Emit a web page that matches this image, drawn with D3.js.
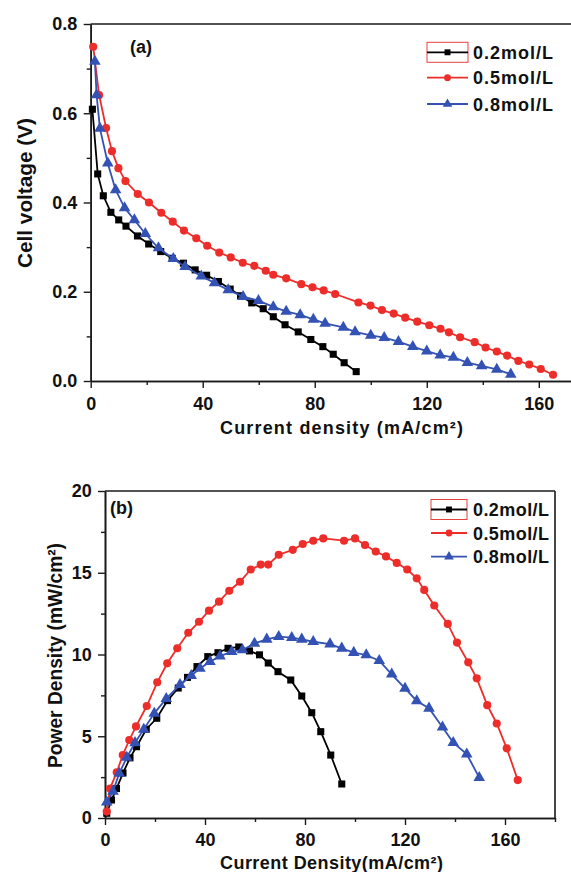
<!DOCTYPE html>
<html>
<head>
<meta charset="utf-8">
<script src="https://cdn.jsdelivr.net/npm/d3@7"></script>
<style>
  body { margin: 0; background: #fff; }
  svg { display: block; }
  text { font-family: "Liberation Sans", Arial, sans-serif; font-weight: bold; }
</style>
</head>
<body>
<div id="chart"></div>
<script>
// series labels
const seriesNames = ["0.2mol/L", "0.5mol/L", "0.8mol/L"];

// (a) polarization curves: current density (mA/cm2) vs cell voltage (V)
const currentA02 = [0.6, 2.5, 4.5, 7.2, 10, 12.6, 16.7, 20.7, 25, 29.1, 33.1, 37.3, 41.4, 45.6, 49.8, 53.5, 57.5, 61.6, 65.2, 69.4, 74.1, 78.6, 82.9, 86.6, 90.5, 94.8];
const voltageA02 = [0.609, 0.464, 0.415, 0.378, 0.361, 0.347, 0.325, 0.307, 0.290, 0.275, 0.264, 0.249, 0.237, 0.223, 0.206, 0.191, 0.175, 0.162, 0.144, 0.126, 0.110, 0.093, 0.077, 0.060, 0.041, 0.021];

const currentA05 = [0.9, 3.0, 5.5, 7.6, 9.9, 12.4, 16.8, 20.8, 25.2, 29.3, 33.3, 37.7, 41.6, 45.9, 50, 54.3, 58.4, 62.5, 65.2, 69.8, 75.2, 79.2, 83.2, 87.3, 95.6, 99.9, 104, 108.2, 112.3, 116.6, 120.9, 124.9, 127.9, 131.9, 137.1, 141, 145, 148.7, 152.7, 156.6, 160.7, 165.1];
const voltageA05 = [0.749, 0.641, 0.567, 0.515, 0.477, 0.448, 0.419, 0.400, 0.377, 0.357, 0.337, 0.320, 0.303, 0.288, 0.277, 0.265, 0.258, 0.247, 0.238, 0.230, 0.217, 0.210, 0.203, 0.195, 0.176, 0.169, 0.159, 0.151, 0.142, 0.133, 0.125, 0.117, 0.109, 0.098, 0.087, 0.075, 0.066, 0.057, 0.045, 0.037, 0.027, 0.014];

const currentA08 = [1.5, 2.1, 3.3, 6.1, 8.9, 12.1, 15.6, 19.5, 24.2, 29.5, 33.7, 39.5, 44.2, 49.1, 54.4, 59.9, 65.2, 69.8, 74.8, 79.5, 83.7, 90.2, 94.4, 100, 104.8, 109.9, 115, 120, 124.8, 129.5, 134.5, 139.6, 145, 150];
const voltageA08 = [0.716, 0.641, 0.566, 0.488, 0.428, 0.388, 0.361, 0.330, 0.298, 0.274, 0.256, 0.235, 0.220, 0.204, 0.189, 0.180, 0.166, 0.156, 0.148, 0.138, 0.129, 0.120, 0.110, 0.102, 0.097, 0.088, 0.077, 0.067, 0.058, 0.053, 0.041, 0.034, 0.026, 0.015];

// (b) power curves: current density (mA/cm2) vs power density (mW/cm2)
const currentB02 = [0.7, 2.6, 4.6, 7.2, 10, 12.6, 16.5, 20.7, 25, 29.3, 33, 36.8, 41.1, 45.2, 49.2, 53.5, 57.8, 61.8, 65.3, 69.2, 74.3, 78.7, 82.7, 86.3, 90.3, 94.7];
const powerB02 = [0.29, 1.1, 1.8, 2.75, 3.68, 4.36, 5.43, 6.1, 7.18, 7.95, 8.6, 9.26, 9.87, 10.11, 10.38, 10.46, 10.22, 9.98, 9.48, 8.95, 8.44, 7.46, 6.44, 5.28, 3.85, 2.08];

const currentB05 = [0.7, 2, 4.7, 7.1, 9.7, 12.4, 16.7, 20.9, 24.9, 28.9, 33.3, 37.6, 41.6, 45.6, 49.7, 54, 58.3, 62.3, 65.3, 69.5, 75.1, 79.1, 83.3, 87.3, 95.6, 100, 104, 108.3, 112.4, 116.7, 120.9, 124.7, 127.7, 131.7, 137.1, 140.8, 145.3, 148.7, 152.9, 156.7, 160.7, 165.1];
const powerB05 = [0.39, 1.8, 2.8, 3.85, 4.77, 5.6, 6.85, 8.3, 9.46, 10.38, 11.33, 12.0, 12.68, 13.23, 13.9, 14.45, 15.2, 15.5, 15.5, 16.1, 16.4, 16.76, 16.96, 17.1, 16.96, 17.1, 16.7, 16.3, 16.0, 15.6, 15.2, 14.66, 13.95, 13.0, 11.87, 10.73, 9.52, 8.54, 6.9, 5.78, 4.26, 2.32];

const currentB08 = [0.7, 3.2, 5.7, 8.7, 12, 15.5, 19.7, 24.5, 30, 34.5, 38, 42, 46, 50.7, 55, 59.8, 64.7, 69.5, 74.7, 78.7, 83.3, 90, 94.7, 99.5, 104.5, 109.7, 114.7, 120, 124.7, 129.6, 135, 139.3, 144.7, 149.7];
const powerB08 = [0.97, 1.63, 2.73, 3.7, 4.6, 5.42, 6.4, 7.3, 8.15, 8.7, 9.15, 9.56, 9.9, 10.18, 10.28, 10.68, 10.93, 11.09, 11.03, 10.93, 10.78, 10.64, 10.38, 10.12, 9.97, 9.62, 8.79, 7.93, 7.16, 6.71, 5.55, 4.61, 3.91, 2.47];

// tick values
const xTicksMajor = [0, 40, 80, 120, 160];
const xTicksMinorA = [20, 60, 100, 140];
const xTicksMinorB = [20, 60, 100, 140, 180];
const yTicksA = [0, 0.2, 0.4, 0.6, 0.8];
const yTicksMinorA = [0.1, 0.3, 0.5, 0.7];
const yTicksB = [0, 5, 10, 15, 20];
const yTicksMinorB = [2.5, 7.5, 12.5, 17.5];

const colors = ["#000000", "#ec2d2a", "#3352b3"];
const symbols = [d3.symbolSquare, d3.symbolCircle, d3.symbolTriangle];
const symSize = [50, 52, 58];

const svg = d3.select("#chart").append("svg")
  .attr("width", 571)
  .attr("height", 872);

const axisColor = "#1a1a1a";

function styleAxis(g) {
  g.select(".domain").attr("stroke", axisColor).attr("stroke-width", 1.6);
  g.selectAll(".tick line").attr("stroke", axisColor).attr("stroke-width", 1.4);
  g.selectAll("text").attr("fill", "#111").style("font-size", "18px")
    .style("font-family", "'Liberation Sans', Arial, sans-serif").style("font-weight", "bold");
}

// draws axes + series for one panel
function drawPanel(x, y, xMinor, yMajor, yMinor, yFormat, xPad, yPad, seriesX, seriesY) {
  const g = svg.append("g");

  // minor ticks first (no labels)
  g.append("g").attr("transform", `translate(0,${y.range()[0]})`)
    .call(d3.axisBottom(x).tickValues(xMinor).tickSizeInner(4).tickSizeOuter(0).tickFormat(""))
    .call(styleAxis);
  g.append("g").attr("transform", `translate(${x.range()[0]},0)`)
    .call(d3.axisLeft(y).tickValues(yMinor).tickSizeInner(4).tickSizeOuter(0).tickFormat(""))
    .call(styleAxis);

  g.append("g").attr("transform", `translate(0,${y.range()[0]})`)
    .call(d3.axisBottom(x).tickValues(xTicksMajor).tickSizeInner(7).tickSizeOuter(0).tickPadding(xPad).tickFormat(d3.format("d")))
    .call(styleAxis);
  g.append("g").attr("transform", `translate(${x.range()[0]},0)`)
    .call(d3.axisLeft(y).tickValues(yMajor).tickSizeInner(7).tickSizeOuter(0).tickPadding(yPad).tickFormat(yFormat))
    .call(styleAxis);

  // top border
  g.append("line")
    .attr("x1", x.range()[0]).attr("x2", x.range()[1])
    .attr("y1", y.range()[1]).attr("y2", y.range()[1])
    .attr("stroke", axisColor).attr("stroke-width", 1.6);

  seriesX.forEach((xs, i) => {
    const pts = xs.map((v, j) => [v, seriesY[i][j]]);
    g.append("path")
      .datum(pts)
      .attr("fill", "none")
      .attr("stroke", colors[i])
      .attr("stroke-width", 1.8)
      .attr("d", d3.line().x(d => x(d[0])).y(d => y(d[1])));
    g.selectAll(null)
      .data(pts)
      .enter()
      .append("path")
      .attr("transform", d => `translate(${x(d[0])},${y(d[1])})`)
      .attr("d", d3.symbol().type(symbols[i]).size(symSize[i]))
      .attr("fill", colors[i]);
  });
  return g;
}

function drawLegend(x1, x2, tx, rows, textLen) {
  const g = svg.append("g");
  // selection box left round the first entry
  g.append("rect")
    .attr("x", x1).attr("y", rows[0] - 10)
    .attr("width", x2 - x1).attr("height", 20)
    .attr("fill", "none").attr("stroke", "#e8413c").attr("stroke-width", 1);
  seriesNames.forEach((name, i) => {
    g.append("line")
      .attr("x1", x1).attr("x2", x2)
      .attr("y1", rows[i]).attr("y2", rows[i])
      .attr("stroke", colors[i]).attr("stroke-width", 1.8);
    g.append("path")
      .attr("transform", `translate(${(x1 + x2) / 2},${rows[i]})`)
      .attr("d", d3.symbol().type(symbols[i]).size(symSize[i] * 0.7))
      .attr("fill", colors[i]);
    g.append("text")
      .attr("x", tx).attr("y", rows[i] + 6.5)
      .attr("textLength", textLen).attr("lengthAdjust", "spacing")
      .style("font-size", "18px").attr("fill", "#111")
      .text(name);
  });
}

// ---------- panel (a)
const xA = d3.scaleLinear().domain([0, 171.5]).range([90.7, 571]);
const yA = d3.scaleLinear().domain([0, 0.8]).range([381, 24]);
drawPanel(xA, yA, xTicksMinorA, yTicksA, yTicksMinorA, d3.format(".1f"), 9, 6.5,
  [currentA02, currentA05, currentA08], [voltageA02, voltageA05, voltageA08]);
drawLegend(427, 468, 473, [52.3, 77.7, 104], 80);

svg.append("text").attr("x", 130).attr("y", 53).style("font-size", "18px").attr("fill", "#111").text("(a)");
svg.append("text")
  .attr("x", 220).attr("y", 434)
  .attr("textLength", 243).attr("lengthAdjust", "spacing")
  .style("font-size", "18px").attr("fill", "#111")
  .text("Current density (mA/cm²)");
svg.append("text")
  .attr("transform", "translate(32,268) rotate(-90)")
  .attr("textLength", 150).attr("lengthAdjust", "spacingAndGlyphs")
  .style("font-size", "21px").attr("fill", "#111")
  .text("Cell voltage (V)");

// ---------- panel (b)
const xB = d3.scaleLinear().domain([0, 180]).range([105, 555]);
const yB = d3.scaleLinear().domain([0, 20]).range([818, 491]);
drawPanel(xB, yB, xTicksMinorB, yTicksB, yTicksMinorB, d3.format("d"), 8, 6.3,
  [currentB02, currentB05, currentB08], [powerB02, powerB05, powerB08]);
// right border of panel (b)
svg.append("line")
  .attr("x1", xB.range()[1]).attr("x2", xB.range()[1])
  .attr("y1", yB.range()[0]).attr("y2", yB.range()[1])
  .attr("stroke", axisColor).attr("stroke-width", 1.6);
drawLegend(431, 467, 473, [509.5, 533, 556.7], 76);

svg.append("text").attr("x", 110).attr("y", 514).style("font-size", "18px").attr("fill", "#111").text("(b)");
svg.append("text")
  .attr("x", 220).attr("y", 869)
  .attr("textLength", 223).attr("lengthAdjust", "spacing")
  .style("font-size", "18px").attr("fill", "#111")
  .text("Current Density(mA/cm²)");
svg.append("text")
  .attr("transform", "translate(62,768) rotate(-90)")
  .attr("textLength", 225).attr("lengthAdjust", "spacingAndGlyphs")
  .style("font-size", "20px").attr("fill", "#111")
  .text("Power Density (mW/cm²)");
</script>
</body>
</html>
